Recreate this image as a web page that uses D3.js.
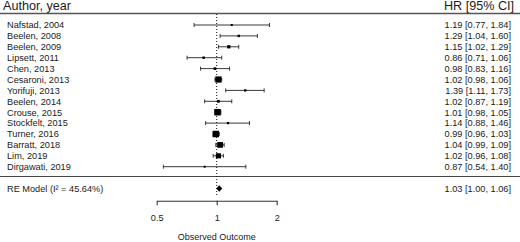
<!DOCTYPE html>
<html>
<head>
<meta charset="utf-8">
<script src="https://cdn.jsdelivr.net/npm/d3@7"></script>
<style>
  body { margin: 0; background: #fff; }
  svg { display: block; font-family: "Liberation Sans", Arial, sans-serif; }
  .row-text { font-size: 9.2px; fill: #1a1a1a; }
  .head-text { font-size: 12.6px; fill: #1a1a1a; }
  .axis text { font-size: 9.2px; fill: #1a1a1a; font-family: "Liberation Sans", Arial, sans-serif; }
  .axis path, .axis line { stroke: #333; stroke-width: 1.1; }
</style>
</head>
<body>
<div id="chart"></div>
<script>
const studies = ["Nafstad, 2004", "Beelen, 2008", "Beelen, 2009", "Lipsett, 2011", "Chen, 2013",
  "Cesaroni, 2013", "Yorifuji, 2013", "Beelen, 2014", "Crouse, 2015", "Stockfelt, 2015",
  "Turner, 2016", "Barratt, 2018", "Lim, 2019", "Dirgawati, 2019"];
const hr = [1.19, 1.29, 1.15, 0.86, 0.98, 1.02, 1.39, 1.02, 1.01, 1.14, 0.99, 1.04, 1.02, 0.87];
const lower = [0.77, 1.04, 1.02, 0.71, 0.83, 0.98, 1.11, 0.87, 0.98, 0.88, 0.96, 0.99, 0.96, 0.54];
const upper = [1.84, 1.60, 1.29, 1.06, 1.16, 1.06, 1.73, 1.19, 1.05, 1.46, 1.03, 1.09, 1.08, 1.40];
// approximate random-effects weights (%), used for square size
const weights = [0.5, 2.0, 5.6, 2.3, 3.1, 17.8, 1.9, 3.5, 18.9, 1.5, 18.7, 15.7, 13.3, 0.4];
const model = { label: "RE Model (I\u00b2 = 45.64%)", est: 1.03, lo: 1.00, hi: 1.06 };
const xTicks = [0.5, 1, 2];

const width = 520;
const height = 242;

const svg = d3.select("#chart")
  .append("svg")
  .attr("width", width)
  .attr("height", height);

const x = d3.scaleLog().base(2)
  .domain([0.5, 2])
  .range([156.7, 276.7]);

// row numbers like metafor: k..1 for studies, -1 for the model
const k = studies.length;
const y = d3.scaleLinear()
  .domain([k, -1])
  .range([25, 188.5]);

const size = d3.scaleLinear()
  .domain(d3.extent(weights))
  .range([2, 6.5]);

const fmt = d3.format(".2f");

const data = studies.map((s, i) => ({
  study: s, hr: hr[i], lo: lower[i], hi: upper[i], w: weights[i], row: k - i
}));

// header
svg.append("text").attr("class", "head-text")
  .attr("x", 3).attr("y", 10).text("Author, year");
svg.append("text").attr("class", "head-text")
  .attr("x", 514).attr("y", 10).attr("text-anchor", "end").text("HR [95% CI]");

svg.append("line")
  .attr("x1", 0).attr("x2", width)
  .attr("y1", 13.5).attr("y2", 13.5)
  .attr("stroke", "#555").attr("stroke-width", 1.3);

svg.append("line")
  .attr("x1", 0).attr("x2", width)
  .attr("y1", 176.5).attr("y2", 176.5)
  .attr("stroke", "#444").attr("stroke-width", 1.2);

// reference line at 1
svg.append("line")
  .attr("x1", x(1)).attr("x2", x(1))
  .attr("y1", 14).attr("y2", 197)
  .attr("stroke", "#111")
  .attr("stroke-dasharray", "1,2");

// study rows
const rows = svg.selectAll(".study")
  .data(data)
  .join("g")
  .attr("class", "study");

rows.append("text").attr("class", "row-text")
  .attr("x", 7).attr("y", d => y(d.row) + 3.3)
  .text(d => d.study);

rows.append("text").attr("class", "row-text")
  .attr("x", 511).attr("y", d => y(d.row) + 3.3)
  .attr("text-anchor", "end")
  .text(d => `${fmt(d.hr)} [${fmt(d.lo)}, ${fmt(d.hi)}]`);

rows.append("line")
  .attr("x1", d => x(d.lo)).attr("x2", d => x(d.hi))
  .attr("y1", d => y(d.row)).attr("y2", d => y(d.row))
  .attr("stroke", "#222").attr("stroke-width", 0.9);

rows.append("line")
  .attr("x1", d => x(d.lo)).attr("x2", d => x(d.lo))
  .attr("y1", d => y(d.row) - 2).attr("y2", d => y(d.row) + 2)
  .attr("stroke", "#222").attr("stroke-width", 0.9);

rows.append("line")
  .attr("x1", d => x(d.hi)).attr("x2", d => x(d.hi))
  .attr("y1", d => y(d.row) - 2).attr("y2", d => y(d.row) + 2)
  .attr("stroke", "#222").attr("stroke-width", 0.9);

rows.append("rect")
  .attr("x", d => x(d.hr) - size(d.w) / 2)
  .attr("y", d => y(d.row) - size(d.w) / 2)
  .attr("width", d => size(d.w))
  .attr("height", d => size(d.w))
  .attr("fill", "#000");

// summary
const my = y(-1);
svg.append("text").attr("class", "row-text")
  .attr("x", 7).attr("y", my + 3.3)
  .text(model.label);
svg.append("text").attr("class", "row-text")
  .attr("x", 511).attr("y", my + 3.3)
  .attr("text-anchor", "end")
  .text(`${fmt(model.est)} [${fmt(model.lo)}, ${fmt(model.hi)}]`);

svg.append("polygon")
  .attr("points", [
    [x(model.lo) - 0.5, my], [x(model.est), my - 3.2],
    [x(model.hi) + 0.5, my], [x(model.est), my + 3.2]
  ].map(p => p.join(",")).join(" "))
  .attr("fill", "#000");

// axis
svg.append("g")
  .attr("class", "axis")
  .attr("transform", "translate(0,200.7)")
  .call(d3.axisBottom(x).tickValues(xTicks).tickFormat(d => d).tickSize(4.5).tickSizeOuter(0).tickPadding(9));

svg.append("text")
  .attr("x", x(1)).attr("y", 240)
  .attr("text-anchor", "middle")
  .attr("class", "row-text")
  .style("font-size", "9px")
  .text("Observed Outcome");
</script>
</body>
</html>
